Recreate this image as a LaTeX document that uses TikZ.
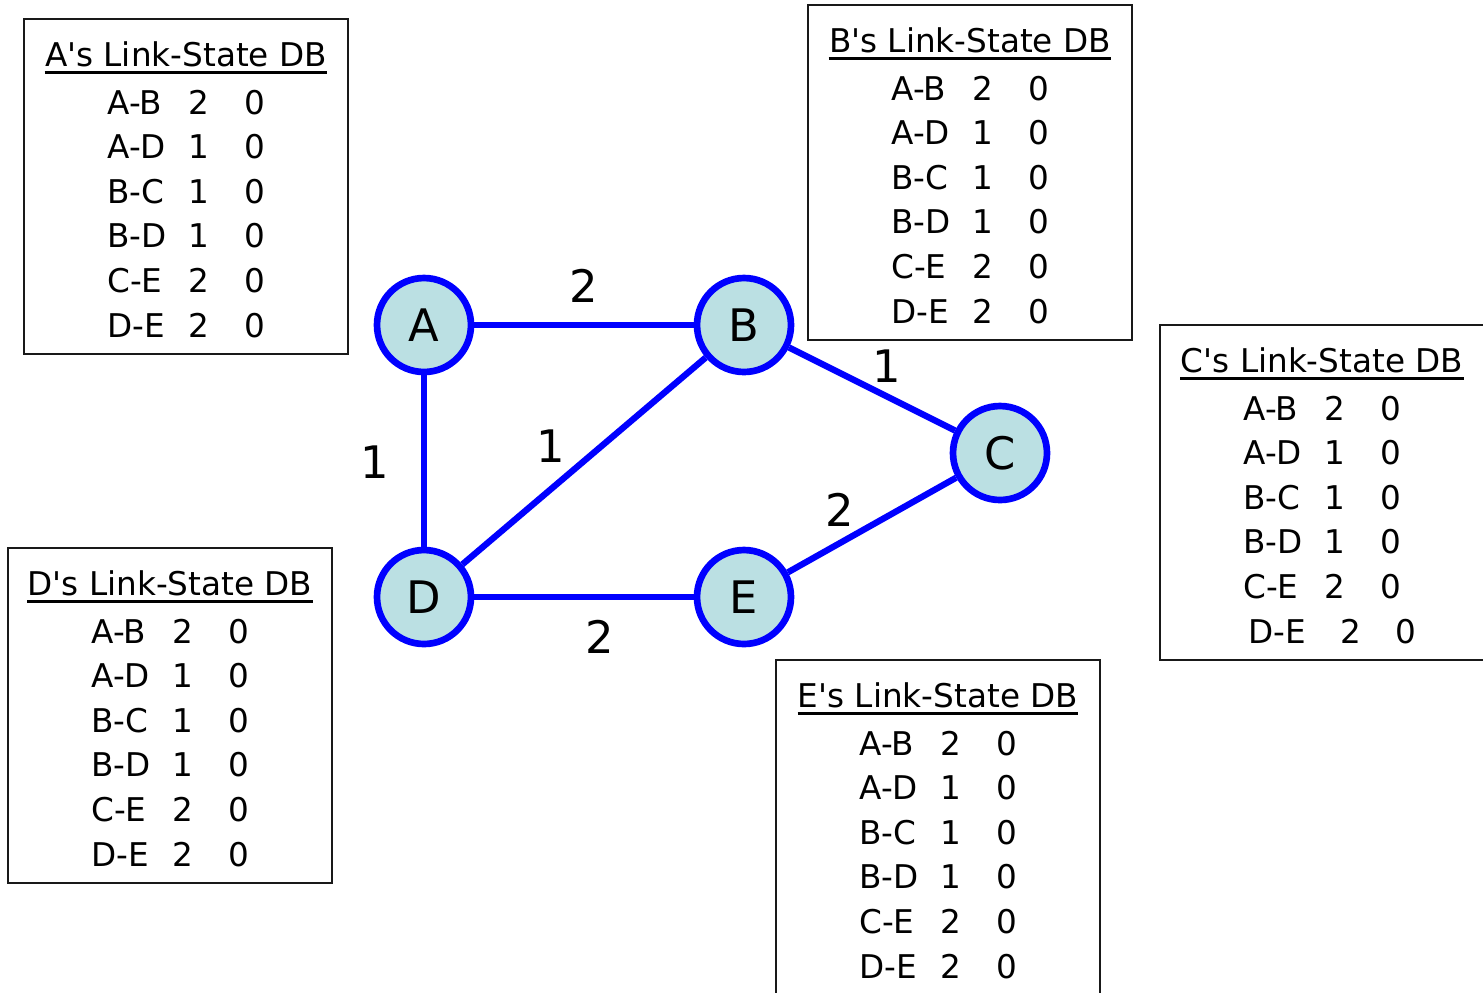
\documentclass[tikz,border=0pt]{standalone}
\usepackage{fontspec}
\setmainfont{DejaVu Sans}
\usepackage{xcolor}

\begin{document}
\begin{tikzpicture}[x=0.02cm,y=-0.02cm,
  router/.style={circle,draw=linkblue,fill=routerfill,line width=3.8pt,minimum size=1.88cm,inner sep=0pt,font=\fontsize{25.5}{30}\selectfont},
  link/.style={draw=linkblue,line width=3.6pt},
  wt/.style={inner sep=0pt,font=\fontsize{25.5}{30}\selectfont},
  dbbox/.style={draw=black!90,line width=1.6pt},
  dbtext/.style={inner sep=0pt,font=\fontsize{18.6}{22}\selectfont}]
\definecolor{linkblue}{HTML}{0000FF}
\definecolor{routerfill}{HTML}{BBE0E3}
\useasboundingbox (0,0) rectangle (1483,992);
\clip (0,0) rectangle (1483,992);

% the network
\node[router] (A) at (424,325) {A};
\node[router] (B) at (744,325) {B};
\node[router] (C) at (1000,453) {C};
\node[router] (D) at (424,597) {D};
\node[router] (E) at (744,597) {E};
\foreach \from/\to/\w/\lx/\ly in {A/B/2/584/286,A/D/1/375/462,B/D/1/551/446,B/C/1/887/366,C/E/2/840/510,D/E/2/600/637}
  {  \draw[link] (\from) -- (\to);
     \node[wt] (w\from\to) at (\lx,\ly) {\w};}

% one link-state database per router
\foreach \who/\bx/\by/\lst in {A/24/19/0,B/808/5/0,C/1160/325/1,D/8/548/0,E/776/660/0}
{
  \draw[dbbox] (\bx,\by) rectangle ++(324,335);
  \node[dbtext,anchor=base] (t\who) at (\bx+162,\by+47) {\who{\textquotesingle}s Link-State DB};
  \draw[line width=1.7pt] ([yshift=-3.5pt]t\who.base west) -- ([yshift=-3.5pt]t\who.base east);
  \foreach \lnk/\cost/\k in {A-B/2/0,A-D/1/1,B-C/1/2,B-D/1/3,C-E/2/4,D-E/2/5}
  {  \node[dbtext,anchor=base west] (\who\k l) at ({\bx+83+5*\lst*(\k==5)},{\by+95+44.6*\k}) {\lnk};
     \node[dbtext,anchor=base] (\who\k c) at ({\bx+175+16*\lst*(\k==5)},{\by+95+44.6*\k}) {\cost};
     \node[dbtext,anchor=base] (\who\k s) at ({\bx+231+15*\lst*(\k==5)},{\by+95+44.6*\k}) {0};}
}
\end{tikzpicture}
\end{document}
